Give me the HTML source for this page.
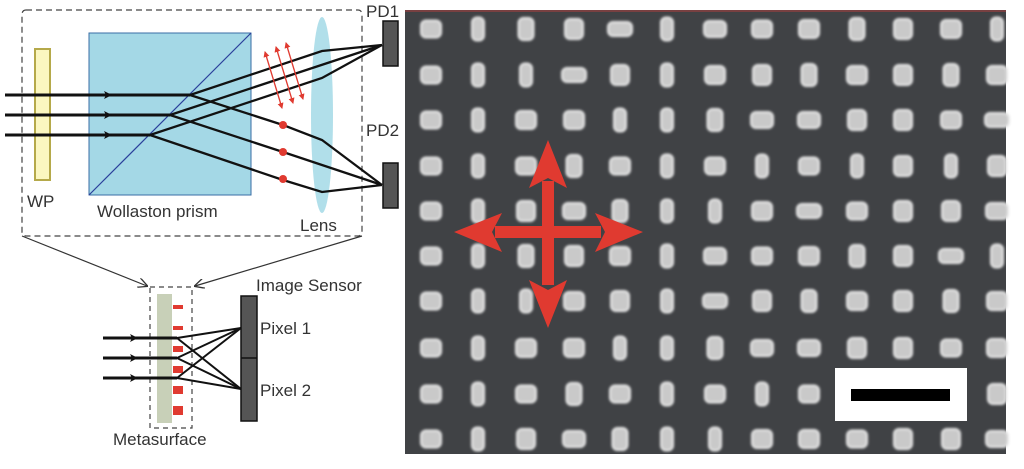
<!DOCTYPE html>
<html><head><meta charset="utf-8"><style>
html,body{margin:0;padding:0;background:#fff;width:1024px;height:469px;overflow:hidden}
svg{display:block}
text{font-family:"Liberation Sans",sans-serif;fill:#333}
</style></head><body>
<svg id="s" width="1024" height="469" viewBox="0 0 1024 469" xmlns="http://www.w3.org/2000/svg">
<defs>
<filter id="gl" x="-50%" y="-50%" width="200%" height="200%"><feGaussianBlur stdDeviation="1.2"/></filter>
<marker id="ah" markerWidth="8" markerHeight="8" refX="7" refY="4" orient="auto" markerUnits="userSpaceOnUse"><path d="M0,0 L8,4 L0,8 L2,4z" fill="#111"/></marker>
<marker id="ra" markerWidth="6" markerHeight="6" refX="5" refY="3" orient="auto-start-reverse" markerUnits="userSpaceOnUse"><path d="M0,0 L6,3 L0,6z" fill="#e03a30"/></marker>
<marker id="ta" markerWidth="10" markerHeight="10" refX="9" refY="5" orient="auto" markerUnits="userSpaceOnUse"><path d="M0,0 L10,5 L0,10" fill="none" stroke="#333" stroke-width="1.3"/></marker>
</defs>
<!-- SEM -->
<rect x="405" y="10" width="601" height="444" fill="#404245"/>
<line x1="405" y1="11" x2="1006" y2="11" stroke="#8a4040" stroke-width="1.5"/>
<g id="pil" filter="url(#gl)" fill="#c9c9c9" stroke="#e8e8e8" stroke-width="2"></g>
<rect x="835" y="368" width="132" height="53" fill="#fff"/>
<rect x="851" y="389" width="99" height="12" fill="#000"/>
<!-- red cross -->
<g fill="#e03a30">
<rect x="495" y="226" width="106" height="12"/>
<rect x="542" y="181" width="12" height="104"/>
<polygon points="454,232 502,213 492,232 502,252"/>
<polygon points="643,232 595,213 605,232 595,252"/>
<polygon points="548,140 529,188 548,178 567,188"/>
<polygon points="548,328 529,280 548,290 567,280"/>
</g>
<!-- left top diagram -->
<rect x="22" y="10" width="340" height="226" rx="4" fill="none" stroke="#444" stroke-width="1.2" stroke-dasharray="6,4"/>
<rect x="35" y="49" width="15" height="131" fill="#fbf7c0" stroke="#b5a94a" stroke-width="2"/>
<rect x="89" y="33" width="162" height="162" fill="#a4d8e6" stroke="#3a6ea5" stroke-width="1"/>
<line x1="89" y1="195" x2="251" y2="33" stroke="#2a3f9a" stroke-width="1.2"/>
<ellipse cx="322" cy="115" rx="11" ry="98" fill="#a9dbe8" opacity="0.9"/>
<g stroke="#111" stroke-width="3" fill="none">
<line x1="5" y1="95" x2="190" y2="95"/><line x1="5" y1="115" x2="170" y2="115"/><line x1="5" y1="135" x2="150" y2="135"/>
</g>
<g stroke="#111" stroke-width="3"><line x1="80" y1="95" x2="111" y2="95" marker-end="url(#ah)"/><line x1="80" y1="115" x2="111" y2="115" marker-end="url(#ah)"/><line x1="80" y1="135" x2="111" y2="135" marker-end="url(#ah)"/></g>
<g stroke="#111" stroke-width="2.3" fill="none">
<polyline points="190,95 322,51 382,45"/><polyline points="170,115 382,45"/><polyline points="150,135 322,78 382,45"/>
<polyline points="190,95 283,125 322,140 382,185"/><polyline points="170,115 283,152 382,185"/><polyline points="150,135 283,180 322,192 382,185"/>
</g>
<g fill="#e03a30"><circle cx="283" cy="125" r="4"/><circle cx="283" cy="152" r="4"/><circle cx="283" cy="179" r="4"/></g>
<g stroke="#e03a30" stroke-width="1.3"><line x1="265" y1="52" x2="282" y2="108" marker-start="url(#ra)" marker-end="url(#ra)"/><line x1="276" y1="47" x2="293" y2="103" marker-start="url(#ra)" marker-end="url(#ra)"/><line x1="286" y1="43" x2="303" y2="99" marker-start="url(#ra)" marker-end="url(#ra)"/></g>
<rect x="383" y="21" width="15" height="45" fill="#555" stroke="#111" stroke-width="1.5"/>
<rect x="383" y="163" width="15" height="45" fill="#555" stroke="#111" stroke-width="1.5"/>
<text x="366" y="17" font-size="17">PD1</text>
<text x="366" y="136" font-size="17">PD2</text>
<text x="27" y="207" font-size="17">WP</text>
<text x="97" y="217" font-size="17">Wollaston prism</text>
<text x="300" y="231" font-size="17">Lens</text>
<line x1="22" y1="236" x2="147" y2="286" stroke="#333" stroke-width="1.2" marker-end="url(#ta)"/>
<line x1="362" y1="236" x2="195" y2="286" stroke="#333" stroke-width="1.2" marker-end="url(#ta)"/>
<!-- metasurface -->
<rect x="150" y="287" width="42" height="141" fill="none" stroke="#444" stroke-width="1.2" stroke-dasharray="5,4"/>
<rect x="157" y="294" width="15" height="129" fill="#c8d0b8"/>
<g fill="#e03a30"><rect x="173" y="305" width="10" height="4"/><rect x="173" y="326" width="10" height="4"/><rect x="173" y="346" width="10" height="6"/><rect x="173" y="366" width="10" height="7"/><rect x="173" y="386" width="10" height="8"/><rect x="173" y="406" width="10" height="9"/></g>
<g stroke="#111" stroke-width="3"><line x1="103" y1="338" x2="177" y2="338"/><line x1="103" y1="358" x2="177" y2="358"/><line x1="103" y1="378" x2="177" y2="378"/>
<line x1="110" y1="338" x2="137" y2="338" marker-end="url(#ah)"/><line x1="110" y1="358" x2="137" y2="358" marker-end="url(#ah)"/><line x1="110" y1="378" x2="137" y2="378" marker-end="url(#ah)"/></g>
<g stroke="#111" stroke-width="2"><line x1="177" y1="338" x2="241" y2="328"/><line x1="177" y1="358" x2="241" y2="328"/><line x1="177" y1="378" x2="241" y2="328"/><line x1="177" y1="338" x2="241" y2="389"/><line x1="177" y1="358" x2="241" y2="389"/><line x1="177" y1="378" x2="241" y2="389"/></g>
<rect x="241" y="296" width="16" height="125" fill="#555" stroke="#111" stroke-width="1.5"/>
<line x1="241" y1="358" x2="257" y2="358" stroke="#111" stroke-width="1.5"/>
<text x="256" y="291" font-size="17">Image Sensor</text>
<text x="260" y="334" font-size="17">Pixel 1</text>
<text x="260" y="396" font-size="17">Pixel 2</text>
<text x="113" y="445" font-size="17">Metasurface</text>
</svg>
<script>
var g=document.getElementById('pil'),ns='http://www.w3.org/2000/svg';
var xs=[431,478,526,574,620,667,715,762,809,857,903,951,997];
var ys=[29,75,120,166,211,256,301,348,394,439];
var T=[[20,17],[12,23],[18,20],[20,18],[22,16],[24,14],[15,22]];
for(var r=0;r<10;r++)for(var c=0;c<13;c++){
 var k=(r*7+c*3+(r*c)%5)%7;
 if(k==5&&(r+c)%2)k=3;
 if(c==1)k=1; if(c==0)k=0;
 var w=T[k][0],h=T[k][1];
 var e=document.createElementNS(ns,'rect');
 e.setAttribute('x',xs[c]-w/2);e.setAttribute('y',ys[r]-h/2);
 e.setAttribute('width',w);e.setAttribute('height',h);
 e.setAttribute('rx',5);g.appendChild(e);
}
</script>
</body></html>
